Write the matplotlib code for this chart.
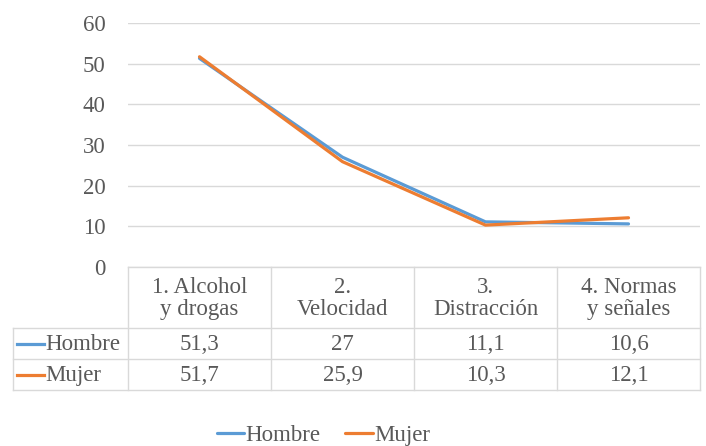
import matplotlib.pyplot as plt
import matplotlib.transforms as mtransforms

categories = ["1. Alcohol\ny drogas", "2.\nVelocidad", "3.\nDistracción", "4. Normas\ny señales"]
hombre = [51.3, 27, 11.1, 10.6]
mujer = [51.7, 25.9, 10.3, 12.1]
hombre_labels = ["51,3", "27", "11,1", "10,6"]
mujer_labels = ["51,7", "25,9", "10,3", "12,1"]
yticks = [0, 10, 20, 30, 40, 50, 60]

plt.rcParams["font.family"] = ["Liberation Serif", "DejaVu Serif"]
text_color = "#595959"
grid_color = "#D9D9D9"
blue = "#5B9BD5"
orange = "#ED7D31"
fs = 16.5

W, H = 706, 446
fig = plt.figure(figsize=(W / 100, H / 100), dpi=100)

def fy(py):
    # pixel row (from top) -> figure fraction
    return 1 - py / H

left, right, top, bottom = 128, 700, 23, 267
ax = fig.add_axes([left / W, fy(bottom), (right - left) / W, (bottom - top) / H])

x = list(range(len(categories)))
ax.plot(x, hombre, color=blue, lw=2.3, solid_capstyle="round", label="Hombre")
ax.plot(x, mujer, color=orange, lw=2.3, solid_capstyle="round", label="Mujer")

ax.set_xlim(-0.5, len(categories) - 0.5)
ax.set_ylim(0, 60)
ax.set_yticks(yticks)
ax.set_yticklabels([str(v) for v in yticks], fontsize=fs, color=text_color)
ax.tick_params(axis="y", length=0, pad=16)
ax.set_xticks([])
ax.grid(axis="y", color=grid_color, lw=1)
ax.set_axisbelow(True)
for s in ax.spines.values():
    s.set_visible(False)

# data table under the plot
tr = mtransforms.blended_transform_factory(ax.transData, fig.transFigure)
px_per_unit = (right - left) / len(categories)
label_left = -0.5 - (left - 13) / px_per_unit
rows = [267, 328, 359, 390]

def hline(x0, x1, py):
    ax.plot([x0, x1], [fy(py), fy(py)], transform=tr, color=grid_color, lw=1, clip_on=False)

def vline(xv, py0, py1):
    ax.plot([xv, xv], [fy(py0), fy(py1)], transform=tr, color=grid_color, lw=1, clip_on=False)

hline(-0.5, 3.5, rows[0])
for py in rows[1:]:
    hline(label_left, 3.5, py)
for xv in [-0.5, 0.5, 1.5, 2.5, 3.5]:
    vline(xv, rows[0], rows[3])
vline(label_left, rows[1], rows[3])

for i, cat in enumerate(categories):
    ax.text(i, fy((rows[0] + rows[1]) / 2 + 1), cat, transform=tr, ha="center", va="center",
            fontsize=fs, color=text_color, linespacing=1.05)
    ax.text(i, fy((rows[1] + rows[2]) / 2 + 1), hombre_labels[i], transform=tr, ha="center",
            va="center", fontsize=fs, color=text_color)
    ax.text(i, fy((rows[2] + rows[3]) / 2 + 1), mujer_labels[i], transform=tr, ha="center",
            va="center", fontsize=fs, color=text_color)

for (name, color), (r0, r1) in zip([("Hombre", blue), ("Mujer", orange)],
                                    [(rows[1], rows[2]), (rows[2], rows[3])]):
    yc = (r0 + r1) / 2
    fig.add_artist(plt.Line2D([17 / W, 44 / W], [fy(yc), fy(yc)], color=color, lw=2.3))
    fig.text(45 / W, fy(yc + 1), name, ha="left", va="center", fontsize=fs, color=text_color)

leg = fig.legend(loc="center", bbox_to_anchor=(0.458, fy(435)), ncol=2, frameon=False,
                 fontsize=fs, handlelength=1.2, handletextpad=0.05, columnspacing=1.1,
                 labelcolor=text_color)

fig.savefig("out.png", dpi=100)
